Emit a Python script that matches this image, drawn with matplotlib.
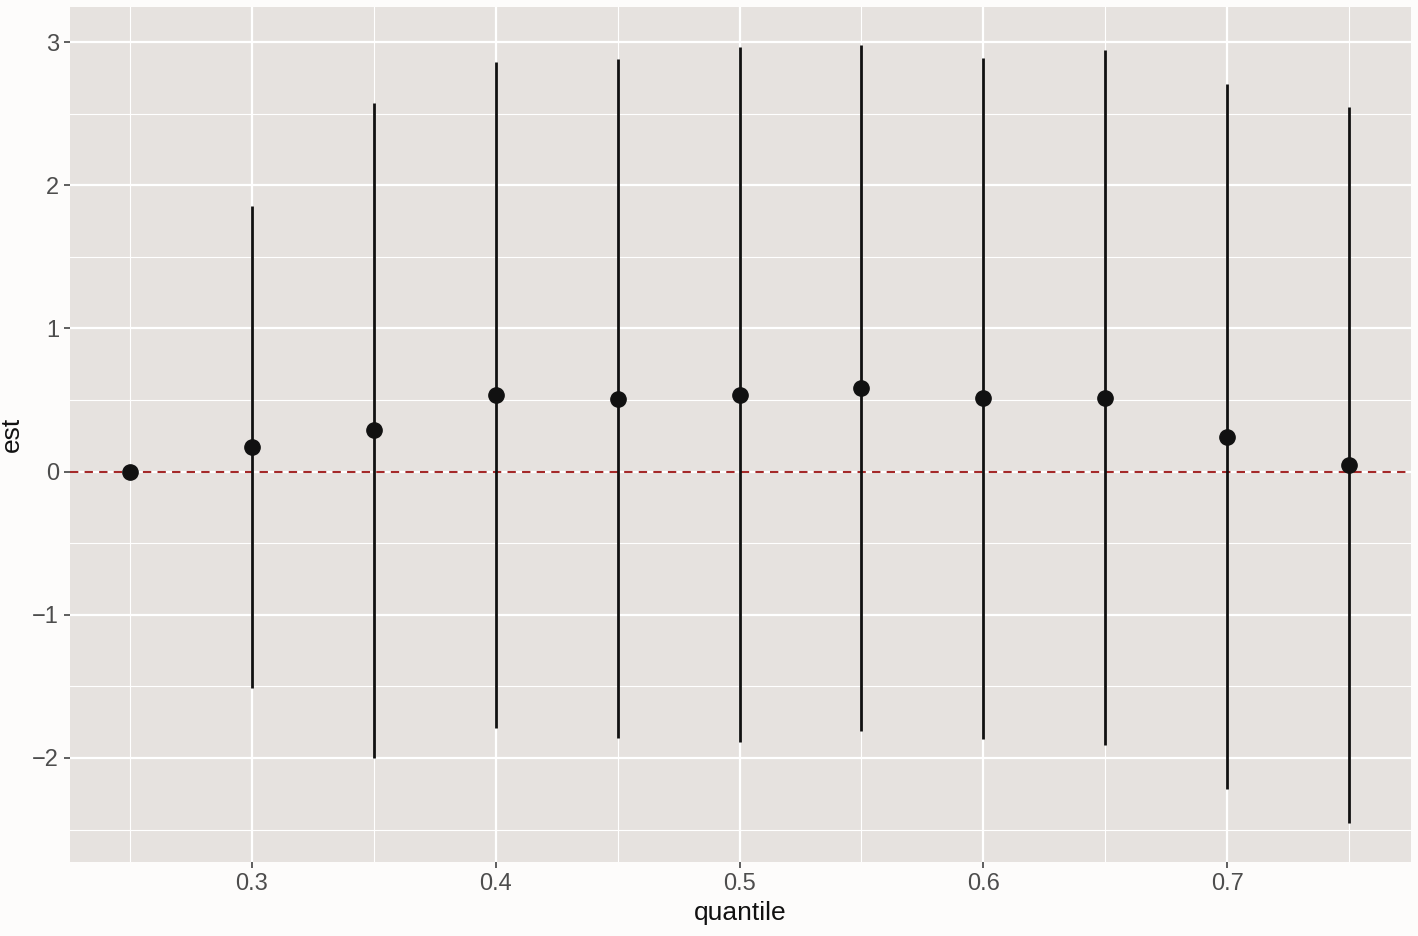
import numpy as np
import matplotlib
matplotlib.use("Agg")
import matplotlib.pyplot as plt

# estimates and 95% intervals per quantile
quantile = [0.25, 0.30, 0.35, 0.40, 0.45, 0.50, 0.55, 0.60, 0.65, 0.70, 0.75]
est = [0.0, 0.175, 0.287, 0.538, 0.51, 0.538, 0.587, 0.517, 0.517, 0.245, 0.049]
upper = [0.0, 1.853, 2.573, 2.86, 2.88, 2.965, 2.979, 2.888, 2.944, 2.706, 2.545]
lower = [0.0, -1.51, -2.0, -1.79, -1.86, -1.89, -1.81, -1.867, -1.909, -2.217, -2.455]

xticks = [0.3, 0.4, 0.5, 0.6, 0.7]
yticks = [-2, -1, 0, 1, 2, 3]


def main():
    plt.rcParams['font.family'] = ['Liberation Sans', 'DejaVu Sans']
    fig = plt.figure(figsize=(14.18, 9.36), dpi=100)
    fig.patch.set_facecolor("#fdfcfb")
    ax = fig.add_axes([70 / 1418, 1 - 862 / 936, (1411 - 70) / 1418, (862 - 7) / 936])
    ax.set_facecolor("#e6e2df")

    # ggplot-ish grid
    ax.set_xticks(xticks)
    ax.set_xticks(np.arange(0.25, 0.76, 0.1), minor=True)
    ax.set_yticks(yticks)
    ax.set_yticks(np.arange(-2.5, 3.0, 1.0), minor=True)
    ax.grid(True, which="major", color="white", linewidth=1.6)
    ax.grid(True, which="minor", color="white", linewidth=0.8)
    ax.set_axisbelow(True)
    for s in ax.spines.values():
        s.set_visible(False)

    ax.axhline(0, color="#a52a2a", linestyle=(0, (4, 3)), linewidth=1.5, zorder=2)
    ax.vlines(quantile, lower, upper, color="#111111", linewidth=2, zorder=3)
    ax.plot(quantile, est, "o", color="#111111", markersize=11, zorder=4)

    ax.set_xlim(0.2254, 0.7754)
    ax.set_ylim(-2.727, 3.245)

    ax.set_yticklabels(["\u22122", "\u22121", "0", "1", "2", "3"])
    ax.tick_params(axis="both", which="major", labelsize=17, colors="#444444",
                   length=4, width=1.2, pad=4, labelcolor="#4d4d4d")
    ax.tick_params(which="minor", length=0)

    ax.set_xlabel("quantile", fontsize=19, color="#111111", labelpad=4)
    ax.set_ylabel("est", fontsize=19, color="#111111", labelpad=6)

    fig.savefig("out.png", dpi=100, facecolor=fig.get_facecolor())


if __name__ == '__main__':
    main()
